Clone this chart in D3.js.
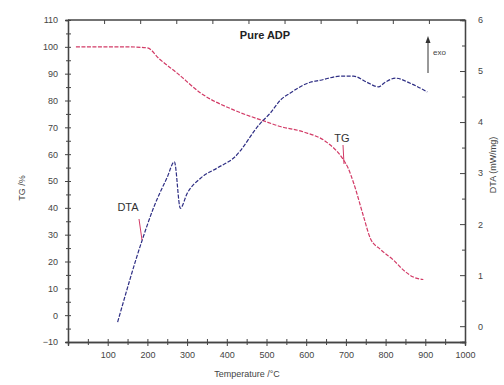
<!DOCTYPE html>
<html>
<head>
<meta charset="utf-8">
<script src="https://cdn.jsdelivr.net/npm/d3@7"></script>
<style>
  body { margin: 0; background: #fff; }
  svg { font-family: "Liberation Sans", Arial, sans-serif; }
</style>
</head>
<body>
<div id="chart"></div>
<script>
// TG curve (mass %) vs temperature
const tgTemp = [20, 100, 150, 200, 230, 275, 334, 417, 493, 535, 593, 653, 691, 705, 720, 744, 762, 787, 820, 845, 870, 895];
const tgVals = [100, 100, 100, 99.6, 95.5, 90.2, 82.8, 76.5, 72.4, 70.3, 68.3, 64.3, 58.5, 55, 49, 37, 28.5, 24.5, 20.5, 16.8, 14.2, 13.3];

// DTA curve (mW/mg) vs temperature
const dtaTemp = [125, 187, 216, 250, 268, 283, 300, 334, 376, 418, 485, 510, 535, 560, 610, 636, 686, 719, 753, 782, 799, 825, 862, 905];
const dtaVals = [0.08, 1.69, 2.33, 2.92, 3.22, 2.31, 2.6, 2.9, 3.1, 3.3, 3.98, 4.18, 4.43, 4.57, 4.78, 4.82, 4.9, 4.9, 4.78, 4.69, 4.78, 4.86, 4.76, 4.59];

const xTicks = [100, 200, 300, 400, 500, 600, 700, 800, 900, 1000];
const tgTicks = [-10, 0, 10, 20, 30, 40, 50, 60, 70, 80, 90, 100, 110];
const dtaTicks = [0, 1, 2, 3, 4, 5, 6];

const width = 504, height = 385;
const plotLeft = 68, plotRight = 465, plotTop = 20, plotBottom = 342;
const axisColor = '#444';

const svg = d3.select('#chart').append('svg')
  .attr('width', width)
  .attr('height', height);

const x = d3.scaleLinear().domain([0, 1000]).range([plotLeft, plotRight]);
const xTop = d3.scaleLinear().domain([0, 1100]).range([plotLeft, plotRight]); // top frame ticks use their own spacing
const yTG = d3.scaleLinear().domain([-10, 110]).range([plotBottom, plotTop]);
const yDTA = d3.scaleLinear().domain([-0.31, 6]).range([plotBottom, plotTop]);

// top frame line
svg.append('line').attr('x1', plotLeft).attr('x2', plotRight).attr('y1', plotTop).attr('y2', plotTop)
  .attr('stroke', axisColor).attr('stroke-width', 1.3);

// bottom axis
const gx = svg.append('g').attr('transform', `translate(0,${plotBottom})`);
gx.append('g').call(d3.axisBottom(x).tickValues(d3.range(50, 1000, 100)).tickSize(3).tickFormat(''));
gx.append('g').call(d3.axisBottom(x).tickValues(xTicks).tickSize(4).tickPadding(6).tickFormat(d3.format('d')));
gx.selectAll('.tick line').attr('y1', -3);

// top ticks
svg.append('g').attr('transform', `translate(0,${plotTop})`)
  .call(d3.axisBottom(xTop).tickValues(d3.range(100, 1100, 100)).tickSize(4).tickFormat(''))
  .select('.domain').remove();

// left TG axis
const gl = svg.append('g').attr('transform', `translate(${plotLeft},0)`);
gl.append('g').call(d3.axisLeft(yTG).tickValues(d3.range(-5, 110, 10)).tickSize(2).tickFormat(''));
gl.append('g').call(d3.axisLeft(yTG).tickValues(tgTicks).tickSize(3).tickPadding(7).tickFormat(d3.format('d')));
gl.selectAll('.tick line').attr('x1', 3);

// right DTA axis
const gr = svg.append('g').attr('transform', `translate(${plotRight},0)`);
gr.append('g').call(d3.axisRight(yDTA).tickValues(d3.range(0.5, 6, 1)).tickSize(-3).tickFormat(''));
gr.append('g').call(d3.axisRight(yDTA).tickValues(dtaTicks).tickSize(-5).tickPadding(13).tickFormat(d3.format('d')));

svg.selectAll('.domain').attr('stroke', axisColor).attr('stroke-width', 1.3);
svg.selectAll('.tick line').attr('stroke', axisColor);
svg.selectAll('.tick text').attr('fill', '#444').style('font-size', '9px');

// curves
const tgLine = d3.line().x(d => x(d[0])).y(d => yTG(d[1])).curve(d3.curveMonotoneX);
const dtaLine = d3.line().x(d => x(d[0])).y(d => yDTA(d[1])).curve(d3.curveMonotoneX);

svg.append('path')
  .datum(d3.zip(tgTemp, tgVals))
  .attr('d', tgLine)
  .attr('fill', 'none')
  .attr('stroke', '#d23a66')
  .attr('stroke-width', 1.2)
  .attr('stroke-dasharray', '4,1.5');

svg.append('path')
  .datum(d3.zip(dtaTemp, dtaVals))
  .attr('d', dtaLine)
  .attr('fill', 'none')
  .attr('stroke', '#2e2e84')
  .attr('stroke-width', 1.2)
  .attr('stroke-dasharray', '4,1.5');

// annotations
svg.append('text').text('Pure ADP')
  .attr('x', 265).attr('y', 39)
  .attr('text-anchor', 'middle')
  .style('font-size', '11px').style('font-weight', 'bold').attr('fill', '#222');

svg.append('line').attr('x1', 428).attr('x2', 428).attr('y1', 40).attr('y2', 73)
  .attr('stroke', '#333').attr('stroke-width', 1);
svg.append('path').attr('d', 'M425.5,43 L428,36 L430.5,43 Z').attr('fill', '#333');
svg.append('text').text('exo').attr('x', 433).attr('y', 55)
  .style('font-size', '8px').attr('fill', '#444');

svg.append('text').text('DTA').attr('x', 128).attr('y', 211)
  .attr('text-anchor', 'middle').style('font-size', '11px').attr('fill', '#333');
svg.append('line').attr('x1', 139).attr('y1', 219).attr('x2', 142).attr('y2', 240)
  .attr('stroke', '#d23a66').attr('stroke-width', 1);

svg.append('text').text('TG').attr('x', 342).attr('y', 142)
  .attr('text-anchor', 'middle').style('font-size', '11px').attr('fill', '#333');
svg.append('line').attr('x1', 343).attr('y1', 145).attr('x2', 344).attr('y2', 164)
  .attr('stroke', '#d23a66').attr('stroke-width', 1);

// axis titles
svg.append('text').text('Temperature /°C')
  .attr('x', 247).attr('y', 377)
  .attr('text-anchor', 'middle').style('font-size', '9px').attr('fill', '#444');

svg.append('text').text('TG /%')
  .attr('transform', 'translate(25,188) rotate(-90)')
  .attr('text-anchor', 'middle').style('font-size', '9px').attr('fill', '#444');

svg.append('text').text('DTA (mW/mg)')
  .attr('transform', 'translate(496,165) rotate(-90)')
  .attr('text-anchor', 'middle').style('font-size', '9px').attr('fill', '#444');
</script>
</body>
</html>
